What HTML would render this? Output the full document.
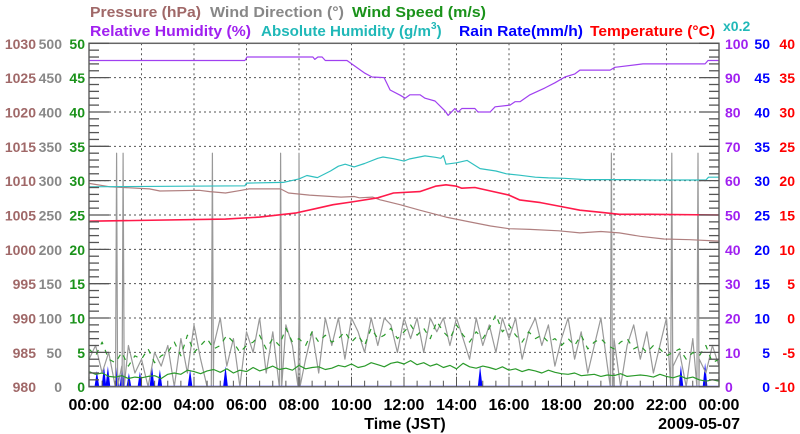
<!DOCTYPE html>
<html><head><meta charset="utf-8">
<style>
html,body{margin:0;padding:0;background:#fff;}
svg{display:block;font-family:"Liberation Sans",sans-serif;font-weight:bold;}
</style></head>
<body>
<svg id="chart" width="800" height="434" viewBox="0 0 800 434" xmlns="http://www.w3.org/2000/svg">
<g font-size="15">
<text x="90" y="17" fill="#a06868" textLength="111" lengthAdjust="spacingAndGlyphs">Pressure (hPa)</text>
<text x="210" y="17" fill="#888" textLength="134" lengthAdjust="spacingAndGlyphs">Wind Direction (°)</text>
<text x="352" y="17" fill="#1a921a" textLength="134" lengthAdjust="spacingAndGlyphs">Wind Speed (m/s)</text>
<text x="90" y="36" fill="#a020f0" textLength="161" lengthAdjust="spacingAndGlyphs">Relative Humidity (%)</text>
<text x="261" y="36" fill="#20b8b8"><tspan textLength="170" lengthAdjust="spacingAndGlyphs">Absolute Humidity (g/m</tspan><tspan font-size="10" dy="-7">3</tspan><tspan dy="7">)</tspan></text>
<text x="459" y="36" fill="#0000ff" textLength="124" lengthAdjust="spacingAndGlyphs">Rain Rate(mm/h)</text>
<text x="590" y="36" fill="#ff0000" textLength="125" lengthAdjust="spacingAndGlyphs">Temperature (°C)</text>
<text x="723" y="31" fill="#20b8b8" font-size="14">x0.2</text>
</g>
<g id="grid"></g>
<g id="series"></g>
<g id="axes"></g>
<text x="405" y="429" text-anchor="middle" font-size="16">Time (JST)</text>
<text x="740" y="429" text-anchor="end" font-size="16">2009-05-07</text>
</svg>
<script>
// ---- data ----
const xTickLabels = ["00:00","02:00","04:00","06:00","08:00","10:00","12:00","14:00","16:00","18:00","20:00","22:00","00:00"];
const pressureTicks = [980,985,990,995,1000,1005,1010,1015,1020,1025,1030];
const windDirTicks = [0,50,100,150,200,250,300,350,400,450,500];
const windSpeedTicks = [0,5,10,15,20,25,30,35,40,45,50];
const rhTicks = [0,10,20,30,40,50,60,70,80,90,100];
const rainTicks = [0,5,10,15,20,25,30,35,40,45,50];
const tempTicks = [-10,-5,0,5,10,15,20,25,30,35,40];

const rhHours = [0,5.94,6.02,8.53,8.6,8.72,8.88,9.0,9.83,10.06,10.51,10.78,11.24,11.47,11.85,12.04,12.23,12.61,12.8,13.18,13.56,13.68,13.94,14.06,14.2,14.7,14.82,15.28,15.47,16.04,16.23,16.42,16.8,17.37,17.75,18.13,18.51,18.7,19.85,20.04,21.1,23.47,23.58,24];
const rhValues = [95,95,96,96,95.3,96,96,95,95,93.7,91.3,90.2,90,86.4,84.9,84,85,85,84,83.2,80.3,79,81,80,81,81,80,80,81.5,82,83,83,85,87,88.5,90.2,91.1,92.2,92.2,93,94,94,95,95];

const ahHours = [0,5.94,6.0,7.4,8.0,8.3,8.7,9.2,9.5,9.76,10.1,10.5,11.0,11.2,11.6,12.0,12.2,12.8,13.2,13.4,13.5,13.6,14.0,14.4,14.9,15.5,15.9,16.4,17.0,17.5,18.1,18.9,20.5,21.6,23.5,23.6,24];
const ahValues = [58.2,58.5,59.3,59.5,60.5,61.5,60.9,62.8,64.2,64.8,64,65,66.5,66.9,66.4,65.7,66.3,67.2,66.8,66.5,67.3,64.8,65.2,65.9,63.5,62.8,62.0,61.6,61.0,60.8,60.7,60.3,60.3,60.2,60.2,61,61];

const tempHours = [0,5.2,6.5,7.9,8.6,9.3,10.0,11.0,11.6,12.6,13.2,13.6,14.0,14.2,14.7,15.3,16.0,16.4,17.2,17.9,18.7,19.5,20.2,21.4,24];
const tempValues = [14.1,14.4,14.7,15.3,15.9,16.5,16.9,17.5,18.2,18.4,19.2,19.4,19.2,18.9,19.0,18.5,17.9,17.2,16.8,16.3,15.7,15.4,15.1,15.1,15.0];

const pressHours = [0,0.8,2.3,2.7,4.2,4.6,5.2,5.8,6.1,7.3,7.6,8.4,9.6,10.1,10.3,10.8,11.1,11.85,12.6,13.6,14.5,15.3,16.0,16.8,17.9,18.7,19.5,20.2,21.0,21.9,22.9,24];
const pressValues = [1009.6,1009.1,1008.8,1008.5,1008.6,1008.4,1008.2,1008.6,1008.8,1008.8,1008.2,1007.9,1007.6,1007.7,1007.5,1007.6,1007.2,1006.5,1005.7,1004.7,1004.0,1003.4,1003.0,1002.9,1002.7,1002.4,1002.6,1002.4,1001.9,1001.5,1001.4,1001.2];

// 15-minute samples 00:00..24:00
const windAvg = [2.2,1.8,2.0,1.5,1.4,1.6,1.2,1.4,1.3,1.5,1.6,1.2,1.8,
2.0,1.8,2.4,2.2,1.9,2.3,2.5,2.1,2.6,2.0,2.4,2.2,
2.8,2.3,2.6,3.0,2.5,2.7,2.4,3.1,2.6,2.8,2.9,2.5,
2.7,3.1,2.9,3.3,2.8,3.0,3.5,3.2,2.9,3.4,3.6,3.3,
3.8,3.2,3.5,3.0,3.3,2.8,3.1,2.6,3.4,2.9,2.7,3.0,
2.8,2.5,2.9,2.4,2.6,2.2,2.5,2.3,2.0,2.4,2.1,1.9,
1.8,2.0,1.6,1.7,1.8,1.5,1.7,1.6,1.9,1.5,1.6,1.7,
1.6,1.4,1.8,1.5,1.3,1.6,1.2,1.4,1.0,0.8,1.0,0.8];
const windGust = [5.5,4.5,6.5,4.0,3.5,5.0,3.0,4.5,4.0,5.5,3.5,4.5,5.0,
6.5,4.5,7.5,5.0,6.0,7.0,5.5,6.0,7.5,6.5,5.0,6.0,
6.5,7.5,5.5,7.0,6.0,8.5,6.5,7.0,6.0,8.0,6.5,7.5,
6.5,7.0,8.0,6.5,7.5,6.0,8.5,7.0,7.5,8.5,7.0,8.0,
9.0,7.5,8.5,7.0,9.5,8.0,7.0,9.0,7.5,6.5,8.0,7.0,
8.5,10.5,8.0,9.0,7.5,6.5,8.0,7.0,7.5,6.5,7.0,6.0,
7.0,6.0,7.5,5.5,6.5,7.0,6.0,5.5,6.5,7.0,5.5,6.0,
5.0,6.0,5.5,4.5,5.0,5.5,4.0,5.0,4.5,6.0,3.5,4.0];
const windDir = [40,60,20,50,0,30,60,20,40,0,50,30,60,
0,70,20,90,40,0,60,100,30,70,0,80,
50,100,20,80,0,90,60,100,40,80,20,100,
60,100,40,100,80,50,100,60,100,90,50,100,
70,100,50,100,80,100,60,100,70,40,100,60,
90,50,100,70,100,40,80,100,60,90,30,70,
100,40,80,20,60,100,30,70,0,60,90,40,
80,20,60,100,30,50,0,70,40,20,60,30];
const dirSpikeHours = [1.05,1.3,4.7,7.3,8.0,19.9,22.2,23.2];
const dirSpikeValues = [340,340,340,340,340,340,340,340];

const rainHours = [0.3,0.57,0.72,1.07,1.26,1.52,1.94,2.4,2.7,3.85,5.2,14.9,22.55,23.47];
const rainValues = [2.3,3,3,3,3,2,2.2,3,2.5,2.5,3,3,3.1,3.5];

// ---- geometry ----
const L=89, R=719, T=43.3, B=386.7;
const NS="http://www.w3.org/2000/svg";
const xOf = h => L + (R-L)*h/24;
const yU = u => B - (B-T)*u/50;
const yRH = v => yU(v/2);
const yP = p => yU(p-980);
const yDir = d => yU(d/10);
const yT = t => yU(t+10);
const yRain = r => yU(r);

function mk(tag, attrs, parent){
  const e=document.createElementNS(NS,tag);
  for(const k in attrs) e.setAttribute(k,attrs[k]);
  parent.appendChild(e); return e;
}
const grid=document.getElementById('grid');
const series=document.getElementById('series');
const axes=document.getElementById('axes');

for(let i=1;i<12;i++){
  const x=xOf(i*2);
  const g=mk('line',{x1:x,x2:x,y1:T,y2:B,stroke:'#555','stroke-width':1,'stroke-dasharray':'2,3'},grid);
  
  
}
for(let i=1;i<10;i++){
  const y=yU(i*5);
  const g=mk('line',{x1:L,x2:R,y1:y,y2:y,stroke:'#555','stroke-width':1,'stroke-dasharray':'2,3'},grid);
  
  
}

function poly(hours, vals, yf, color, name, extra){
  const pts=hours.map((h,i)=>xOf(h).toFixed(1)+','+yf(vals[i]).toFixed(1)).join(' ');
  const p=mk('polyline',Object.assign({points:pts,fill:'none',stroke:color,'stroke-width':1.2,'stroke-linejoin':'round'},extra||{}),series);
  
  
  return p;
}
const q = windAvg.map((_,i)=>i*0.25);

rainHours.forEach((h,i)=>{
  const w=0.09, v=rainValues[i];
  const pts=[[h-w,0],[h,v],[h+w,0]].map(p=>xOf(p[0]).toFixed(1)+','+yRain(p[1]).toFixed(1)).join(' ');
  const p=mk('polygon',{points:pts,fill:'#0000ff'},series);
  
  
});

let dirPts=q.map((h,i)=>[h,windDir[i]]);
dirSpikeHours.forEach((h,i)=>{dirPts.push([h-0.04,0],[h,dirSpikeValues[i]],[h+0.04,0]);});
dirPts.sort((a,b)=>a[0]-b[0]);
poly(dirPts.map(p=>p[0]),dirPts.map(p=>p[1]),yDir,'#999','wind-direction-line');

poly(q,windGust,yU,'#2a9a2a','wind-gust-line',{'stroke-dasharray':'5,6'});
poly(q,windAvg,yU,'#2a9a2a','wind-speed-line');
poly(pressHours,pressValues,yP,'#b08080','pressure-line');
poly(tempHours,tempValues,yT,'#ff1a4a','temperature-line',{'stroke-width':1.6});
poly(ahHours,ahValues,yRH,'#30c0c0','absolute-humidity-line');
poly(rhHours,rhValues,yRH,'#a040f0','relative-humidity-line');
const rb=mk('line',{x1:L,x2:R,y1:B-0.5,y2:B-0.5,stroke:'#4040ff','stroke-width':1},series);



const fr=mk('rect',{x:L,y:T,width:R-L,height:B-T,fill:'none',stroke:'#666','stroke-width':1.5},axes);



for(let i=0;i<=50;i++){
  const y=yU(i);
  const len = i%5===0 ? 20 : 10;
  const a=mk('line',{x1:L,x2:L+len,y1:y,y2:y,stroke:'#555','stroke-width':1.3},axes);
  
  
  const b=mk('line',{x1:R-len,x2:R,y1:y,y2:y,stroke:'#555','stroke-width':1.3},axes);
  
  
}
for(let i=0;i<=48;i++){
  const x=xOf(i*0.5);
  const len = i%4===0 ? 10 : 6;
  const a=mk('line',{x1:x,x2:x,y1:B,y2:B-len,stroke:'#555','stroke-width':1},axes);
  
  
}

function label(txt,x,y,color,anchor,name){
  const t=mk('text',{x:x,y:y,fill:color,'text-anchor':anchor,'font-size':14},axes);
  t.textContent=txt;
  
  
}
for(let i=0;i<=10;i++){
  const y=yU(i*5)+5.5;
  label(pressureTicks[i],36,y,'#a06868','end','pressure-tick-label');
  label(windDirTicks[i],62,y,'#888','end','wind-direction-tick-label');
  label(windSpeedTicks[i],85,y,'#1a921a','end','wind-speed-tick-label');
  label(rhTicks[i],725,y,'#a020f0','start','relative-humidity-tick-label');
  label(rainTicks[i],770,y,'#0000ff','end','rain-rate-tick-label');
  label(tempTicks[i],795,y,'#ff0000','end','temperature-tick-label');
}
xTickLabels.forEach((t,i)=>{
  const tl=mk('text',{x:xOf(i*2),y:410,'text-anchor':'middle','font-size':16,fill:'#000'},axes);
  tl.textContent=t;
  
  
});
</script>
</body></html>
